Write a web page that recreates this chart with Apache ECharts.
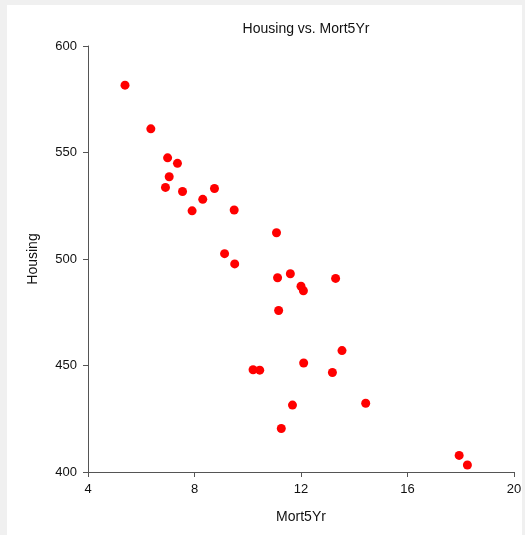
<!DOCTYPE html>
<html><head><meta charset="utf-8">
<script src="https://cdn.jsdelivr.net/npm/echarts@6/dist/echarts.min.js"></script>
<style>html,body{margin:0;padding:0;background:#f0f0f0}#c{width:525px;height:535px}</style>
</head><body><div id="c"></div>
<script>
const mort5Yr = [5.39,6.36,6.99,7.36,7.05,6.91,7.55,8.31,8.75,7.91,9.49,9.13,9.51,
  11.08,11.12,11.60,12.00,12.09,13.30,11.16,13.54,12.10,10.20,10.45,13.18,11.68,14.43,11.26,17.94,18.25];
const housing = [581.6,561.1,547.5,544.9,538.6,533.6,531.7,528.0,533.1,522.6,523.0,502.5,497.7,
  512.3,491.2,493.1,487.2,485.1,490.9,475.8,457.0,451.2,448.0,447.8,446.7,431.4,432.3,420.4,407.8,403.3];
const xTicks = [4,8,12,16,20];
const yTicks = [400,450,500,550,600];

const chart = echarts.init(document.getElementById('c'), null, {renderer:'canvas'});
const font = 'Liberation Sans, Arial, sans-serif';
chart.setOption({
  backgroundColor:'#f0f0f0',
  animation:false,
  graphic:[{type:'rect', shape:{x:7,y:5,width:515,height:540}, style:{fill:'#ffffff'}, z:-10}],
  title:{text:'Housing vs. Mort5Yr', left:301, top:17, textAlign:'center',
    textStyle:{fontFamily:font, fontSize:14, fontWeight:'normal', color:'#111'}},
  grid:{left:88, top:46, right:11, bottom:63},
  xAxis:{type:'value', min:xTicks[0], max:xTicks[xTicks.length-1], interval:4,
    name:'Mort5Yr', nameLocation:'middle', nameGap:38,
    nameTextStyle:{fontFamily:font, fontSize:14, color:'#111'},
    axisLine:{lineStyle:{color:'#555'}}, axisTick:{length:5, lineStyle:{color:'#555'}},
    axisLabel:{fontFamily:font, fontSize:13, color:'#111', margin:11}, splitLine:{show:false}},
  yAxis:{type:'value', min:yTicks[0], max:yTicks[yTicks.length-1], interval:50,
    name:'Housing', nameLocation:'middle', nameGap:48,
    nameTextStyle:{fontFamily:font, fontSize:14, color:'#111'},
    axisLine:{show:true, lineStyle:{color:'#555'}}, axisTick:{show:true, length:5, lineStyle:{color:'#555'}},
    axisLabel:{fontFamily:font, fontSize:13, color:'#111', margin:11}, splitLine:{show:false}},
  series:[{type:'scatter', symbolSize:9, itemStyle:{color:'#ff0000', opacity:1},
    data: mort5Yr.map((x,i)=>[x, housing[i]])}]
});
</script></body></html>
